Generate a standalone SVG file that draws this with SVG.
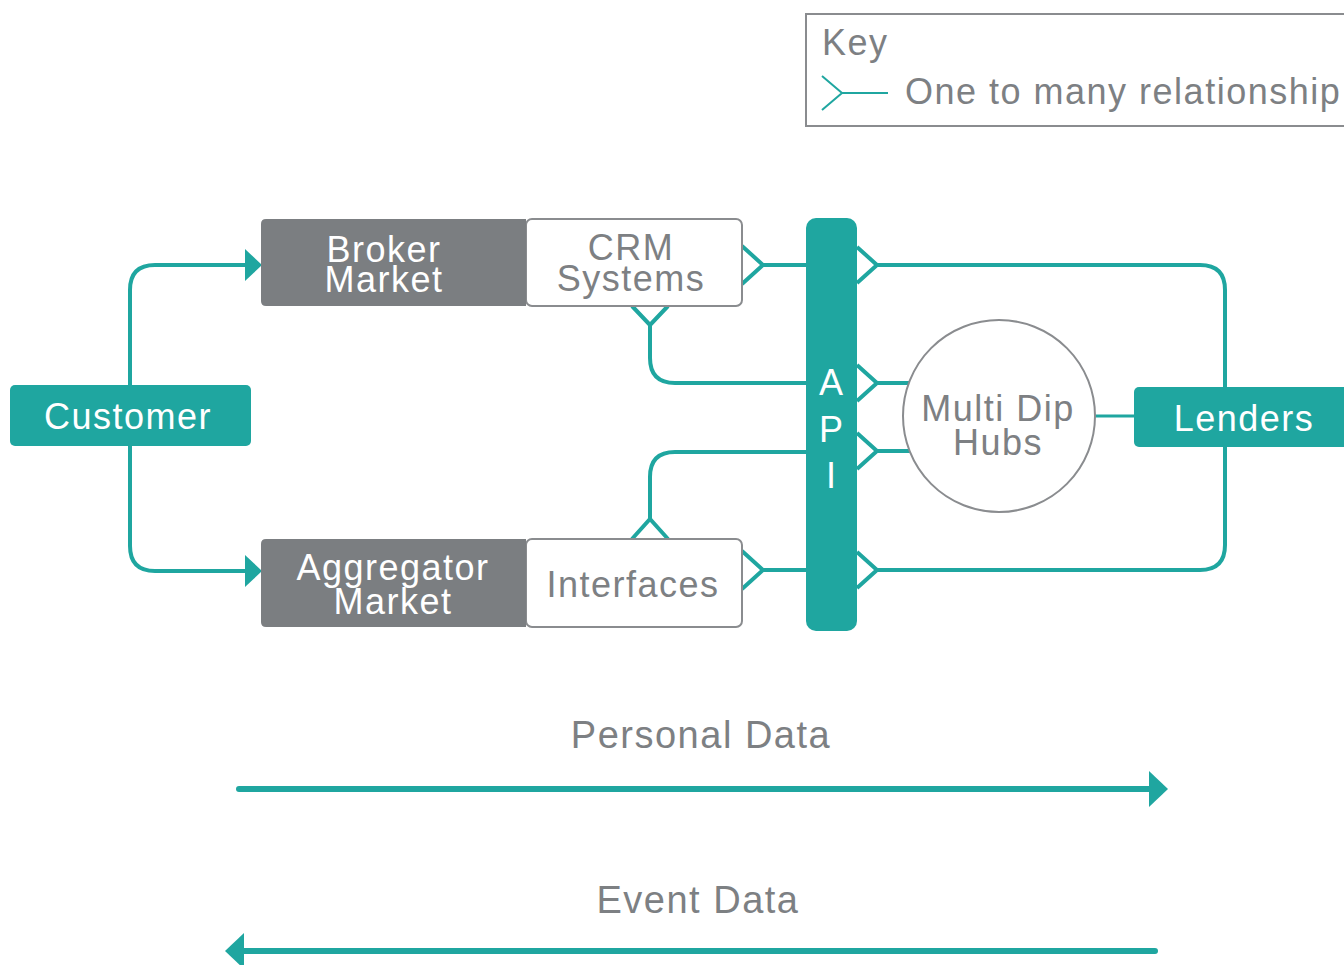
<svg xmlns="http://www.w3.org/2000/svg" width="1344" height="965" viewBox="0 0 1344 965">
  <style>
    .lbl { font-family: "Liberation Sans", Arial, sans-serif; font-size: 36px; letter-spacing: 1.5px; text-anchor: middle; }
    .big { font-size: 38px; }
    .white { fill: #ffffff; }
    .grey { fill: #7d8083; }
    .teal-fill { fill: #1fa6a0; }
    .conn { fill: none; stroke: #1fa6a0; stroke-width: 4; stroke-linejoin: miter; }
    .flow { fill: none; stroke: #1fa6a0; stroke-width: 6; stroke-linecap: round; }
    .outline { fill: #ffffff; stroke: #8a8c8f; stroke-width: 2; }
  </style>

  <rect width="1344" height="965" fill="#ffffff"/>

  <!-- legend -->
  <g id="key">
    <rect x="806" y="14" width="545" height="112" fill="#ffffff" stroke="#8a8c8f" stroke-width="2"/>
    <text x="822" y="55" class="lbl grey" style="text-anchor:start">Key</text>
    <path d="M822,76 L842,93 L822,110 M842,93 H888" fill="none" stroke="#1fa6a0" stroke-width="2"/>
    <text x="905" y="104" class="lbl grey" style="text-anchor:start">One to many relationship</text>
  </g>

  <!-- connectors -->
  <g id="connectors">
    <!-- customer to both markets -->
    <path class="conn" d="M130,385 V290 Q130,265 155,265 H250"/>
    <polygon class="teal-fill" points="245,249 262,265 245,281"/>
    <path class="conn" d="M130,446 V546 Q130,571 155,571 H250"/>
    <polygon class="teal-fill" points="245,555 262,571 245,587"/>

    <!-- CRM systems to API -->
    <path class="conn" d="M742,246 L763,265 L742,284 M763,265 H806"/>
    <path class="conn" d="M632,306 L650,325 L668,306 M650,325 V358 Q650,383 675,383 H806"/>

    <!-- interfaces to API -->
    <path class="conn" d="M742,551 L763,570 L742,589 M763,570 H806"/>
    <path class="conn" d="M632,539 L650,519 L668,539 M650,519 V477 Q650,452 675,452 H806"/>

    <!-- API to lenders -->
    <path class="conn" d="M857,247 L877,265 L857,283 M877,265 H1200 Q1225,265 1225,290 V387"/>
    <path class="conn" d="M857,552 L877,570 L857,588 M877,570 H1200 Q1225,570 1225,545 V447"/>

    <!-- API to hubs -->
    <path class="conn" d="M857,365 L877,383 L857,401 M877,383 H910"/>
    <path class="conn" d="M857,433 L877,451 L857,469 M877,451 H910"/>

    <!-- hubs to lenders -->
    <path d="M1095,416 H1134" fill="none" stroke="#1fa6a0" stroke-width="3"/>
  </g>

  <g id="customer">
    <rect x="10" y="385" width="241" height="61" rx="5" class="teal-fill"/>
    <text x="128" y="429" class="lbl white">Customer</text>
  </g>

  <g id="broker-market">
    <rect x="526" y="219" width="216" height="87" rx="6" class="outline"/>
    <path d="M266,219 H526 V306 H266 Q261,306 261,301 V224 Q261,219 266,219 Z" fill="#7b7e81"/>
    <text class="lbl white"><tspan x="384" y="262">Broker</tspan><tspan x="384" y="292">Market</tspan></text>
    <text class="lbl grey"><tspan x="631" y="260">CRM</tspan><tspan x="631" y="291">Systems</tspan></text>
  </g>

  <g id="aggregator-market">
    <rect x="526" y="539" width="216" height="88" rx="6" class="outline"/>
    <path d="M266,539 H526 V627 H266 Q261,627 261,622 V544 Q261,539 266,539 Z" fill="#7b7e81"/>
    <text class="lbl white"><tspan x="393" y="580">Aggregator</tspan><tspan x="393" y="614">Market</tspan></text>
    <text x="633" y="597" class="lbl grey">Interfaces</text>
  </g>

  <g id="api">
    <rect x="806" y="218" width="51" height="413" rx="10" class="teal-fill"/>
    <text class="lbl white" style="letter-spacing:0"><tspan x="831" y="395">A</tspan><tspan x="831" y="442">P</tspan><tspan x="831" y="488">I</tspan></text>
  </g>

  <g id="multi-dip-hubs">
    <circle cx="999" cy="416" r="96" class="outline"/>
    <text class="lbl grey"><tspan x="998" y="421">Multi Dip</tspan><tspan x="998" y="455">Hubs</tspan></text>
  </g>

  <g id="lenders">
    <rect x="1134" y="387" width="220" height="60" rx="5" class="teal-fill"/>
    <text x="1244" y="431" class="lbl white">Lenders</text>
  </g>

  <!-- data flow directions -->
  <g id="personal-data">
    <text x="701" y="748" class="lbl big grey">Personal Data</text>
    <path class="flow" d="M239,789 H1152"/>
    <polygon class="teal-fill" points="1149,771 1168,789 1149,807"/>
  </g>

  <g id="event-data">
    <text x="698" y="913" class="lbl big grey">Event Data</text>
    <path class="flow" d="M1155,951 H243"/>
    <polygon class="teal-fill" points="244,933 225,951 244,969"/>
  </g>
</svg>
